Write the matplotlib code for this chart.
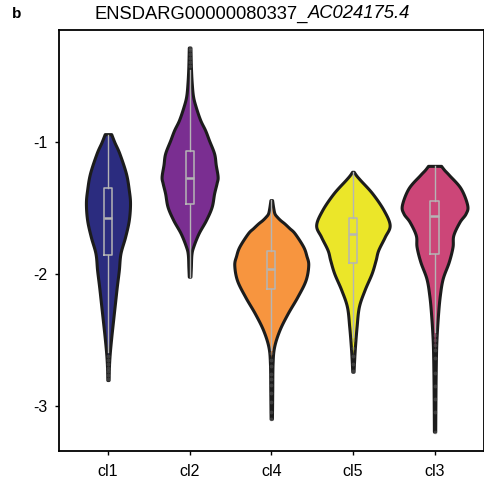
import numpy as np
import matplotlib
matplotlib.use("Agg")
import matplotlib.pyplot as plt

plt.rcParams['font.family'] = ['Liberation Sans', 'DejaVu Sans']
plt.rcParams['axes.unicode_minus'] = False

categories = ["cl1", "cl2", "cl4", "cl5", "cl3"]
colors = ["#2b2c7f", "#7a2e91", "#f7953f", "#ebe629", "#cc4678"]

# violin outline profiles: (value, relative density)
cl1_y = [-0.937, -1.0, -1.084, -1.235, -1.36, -1.463, -1.59, -1.717, -1.843, -1.97,
         -2.096, -2.22, -2.35, -2.476, -2.6, -2.7, -2.805]
cl1_d = [0.04, 0.08, 0.14, 0.22, 0.255, 0.27, 0.255, 0.21, 0.153, 0.133,
         0.108, 0.086, 0.063, 0.041, 0.022, 0.012, 0.008]

cl2_y = [-0.279, -0.43, -0.55, -0.65, -0.73, -0.83, -0.907, -0.983, -1.084, -1.17,
         -1.26, -1.31, -1.387, -1.489, -1.59, -1.69, -1.79, -1.85, -1.95, -2.02]
cl2_d = [0.010, 0.016, 0.026, 0.042, 0.075, 0.13, 0.19, 0.237, 0.30, 0.32,
         0.343, 0.33, 0.30, 0.27, 0.20, 0.11, 0.045, 0.022, 0.015, 0.010]

cl4_y = [-1.438, -1.50, -1.54, -1.565, -1.59, -1.615, -1.65, -1.69, -1.79, -1.86,
         -1.93, -2.046, -2.172, -2.3, -2.425, -2.552, -2.678, -2.88, -3.0, -3.1]
cl4_d = [0.01, 0.025, 0.04, 0.07, 0.11, 0.16, 0.22, 0.286, 0.39, 0.43,
         0.453, 0.42, 0.32, 0.2, 0.10, 0.035, 0.016, 0.012, 0.01, 0.008]

cl5_y = [-1.223, -1.25, -1.286, -1.387, -1.514, -1.628, -1.717, -1.818, -1.894, -1.995,
         -2.12, -2.248, -2.4, -2.552, -2.653, -2.742]
cl5_d = [0.01, 0.04, 0.09, 0.237, 0.376, 0.45, 0.39, 0.31, 0.278, 0.229,
         0.143, 0.073, 0.045, 0.025, 0.015, 0.008]

cl3_y = [-1.178, -1.21, -1.248, -1.349, -1.476, -1.54, -1.603, -1.704, -1.793, -1.907,
         -2.033, -2.16, -2.31, -2.514, -2.742, -3.0, -3.197]
cl3_d = [0.08, 0.12, 0.178, 0.32, 0.40, 0.38, 0.306, 0.23, 0.22, 0.174,
         0.10, 0.065, 0.042, 0.022, 0.014, 0.010, 0.008]

# box statistics
q1 = [-1.856, -1.471, -2.116, -1.914, -1.848]
med = [-1.577, -1.269, -1.964, -1.696, -1.562]
q3 = [-1.349, -1.064, -1.823, -1.572, -1.443]
whislo = [-2.59, -2.02, -2.577, -2.476, -2.438]
whishi = [-0.94, -0.45, -1.44, -1.223, -1.178]
fliers = [
    [-2.62, -2.65, -2.68, -2.71, -2.74, -2.77, -2.80],
    [-0.28, -0.30, -0.33, -0.36, -0.39, -0.42],
    [-2.60, -2.65, -2.70, -2.76, -2.80, -2.84, -2.90, -2.97, -3.05, -3.10],
    [-2.50, -2.56, -2.62, -2.68, -2.74],
    [-2.46, -2.50, -2.54, -2.58, -2.64, -2.75, -2.85, -2.95, -3.05, -3.20],
]

profiles_y = [cl1_y, cl2_y, cl4_y, cl5_y, cl3_y]
profiles_d = [cl1_d, cl2_d, cl4_d, cl5_d, cl3_d]


def smooth_outline(y, d, n=16):
    """Catmull-Rom rendering of the read outline points (drawing only)."""
    y = np.asarray(y, float)
    d = np.asarray(d, float)
    P = np.column_stack([y, d])
    P = np.vstack([P[0], P, P[-1]])
    out = []
    t = np.linspace(0, 1, n, endpoint=False)[:, None]
    for i in range(1, len(P) - 2):
        p0, p1, p2, p3 = P[i - 1], P[i], P[i + 1], P[i + 2]
        seg = 0.5 * ((2 * p1) + (-p0 + p2) * t + (2 * p0 - 5 * p1 + 4 * p2 - p3) * t ** 2
                     + (-p0 + 3 * p1 - 3 * p2 + p3) * t ** 3)
        out.append(seg)
    out.append(P[-2][None, :])
    out = np.vstack(out)
    return out[:, 0], np.clip(out[:, 1], 0.004, None)


fig = plt.figure(figsize=(4.85, 4.86), dpi=100)
ax = fig.add_axes([0.1216, 0.072, 0.8754, 0.866])

positions = list(range(len(categories)))
vpstats = []
widths = []
for py, pd_ in zip(profiles_y, profiles_d):
    sy, sd = smooth_outline(py, pd_)
    vpstats.append(dict(coords=sy, vals=sd, mean=np.nan, median=np.nan,
                        min=sy.min(), max=sy.max()))
    widths.append(2 * sd.max())

parts = ax.violin(vpstats, positions=positions, widths=widths,
                  showmeans=False, showextrema=False, showmedians=False)
for body, c in zip(parts['bodies'], colors):
    body.set_facecolor(c)
    body.set_edgecolor('#1c1c1c')
    body.set_linewidth(2.2)
    body.set_alpha(1)
    body.set_zorder(2)
    body.set_joinstyle('round')

bstats = []
for i in range(len(categories)):
    bstats.append(dict(q1=q1[i], med=med[i], q3=q3[i], whislo=whislo[i],
                       whishi=whishi[i], fliers=fliers[i]))
grey = '#b5b5b5'
ax.bxp(bstats, positions=positions, widths=0.1, showcaps=False, patch_artist=False,
       boxprops=dict(color=grey, linewidth=1.1),
       whiskerprops=dict(color=grey, linewidth=1.0),
       medianprops=dict(color=grey, linewidth=1.8),
       flierprops=dict(marker='o', markersize=2.8, markerfacecolor='#7a7a7a',
                       markeredgecolor='none', alpha=0.35),
       zorder=3)

ax.set_xlim(-0.6, 4.6)
ax.set_ylim(-3.344, -0.147)
ax.set_yticks([-3, -2, -1])
ax.set_yticklabels(['-3', '-2', '-1'])
ax.set_xticks(positions)
ax.set_xticklabels(categories)
ax.tick_params(axis='both', labelsize=11.5, length=3, width=1, color='black',
               labelcolor='black')
ax.tick_params(axis='y', pad=5.5)
ax.tick_params(axis='x', pad=6)
for s in ax.spines.values():
    s.set_linewidth(1.3)
    s.set_color('black')

fig.text(308 / 485, 1 - 14 / 486, "ENSDARG00000080337_", ha='right', va='center',
         fontsize=13.2)
fig.text(308 / 485, 1 - 14 / 486, "AC024175.4", ha='left', va='center',
         fontsize=13.2, style='italic')
fig.text(12 / 485, 1 - 14 / 486, "b", ha='left', va='center', fontsize=11,
         fontweight='bold')

fig.savefig("out.png", dpi=100)
